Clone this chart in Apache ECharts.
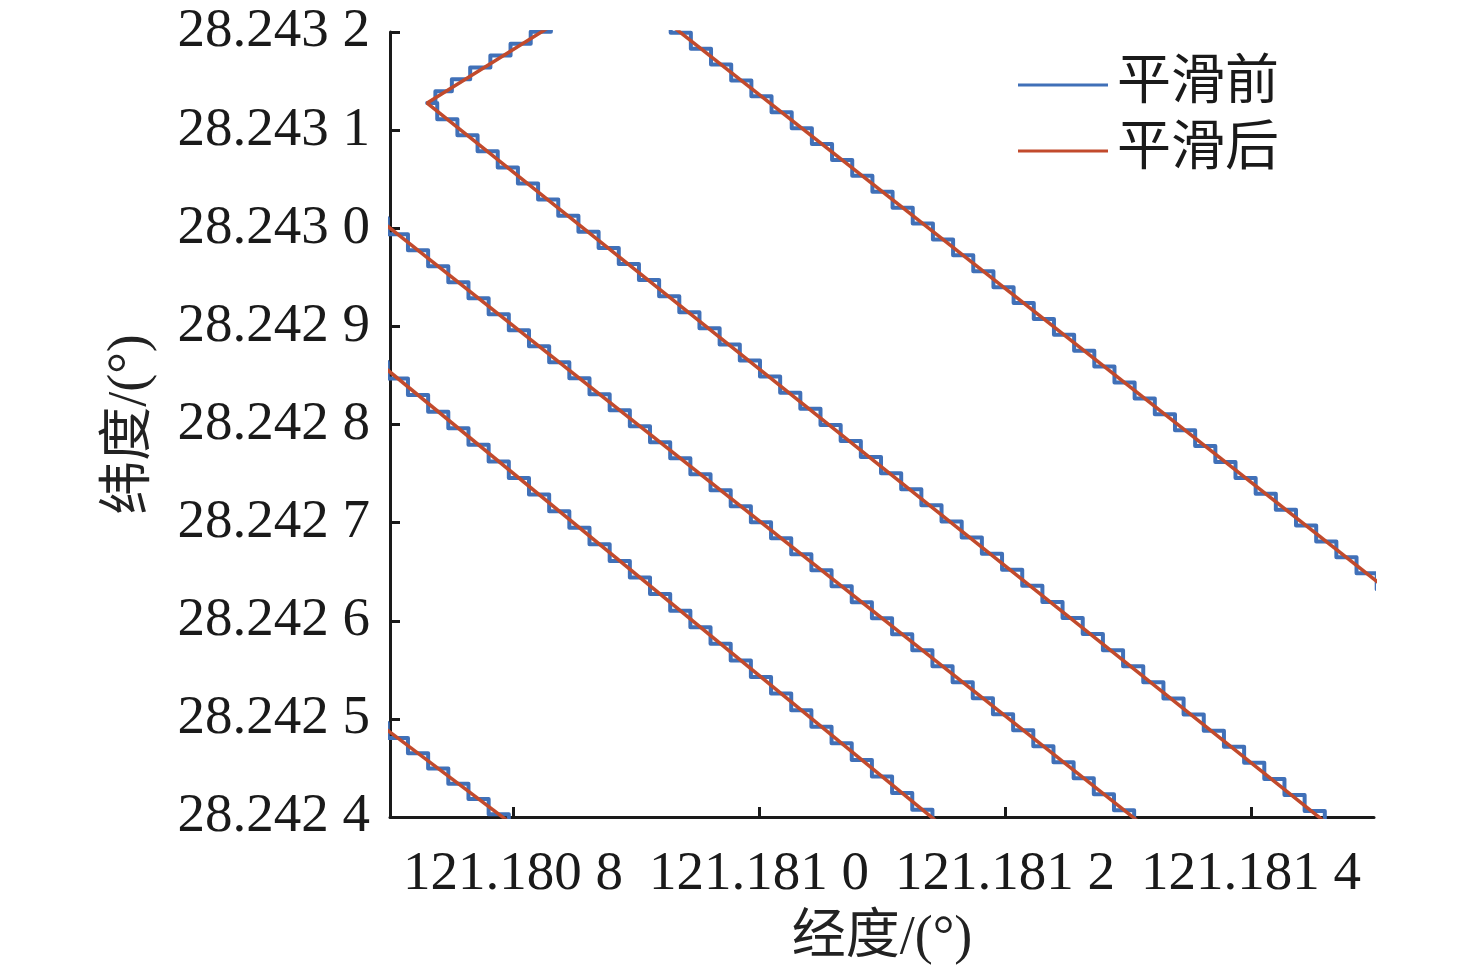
<!DOCTYPE html>
<html>
<head>
<meta charset="utf-8">
<title>平滑前后轨迹</title>
<script src="https://cdn.jsdelivr.net/npm/echarts@6/dist/echarts.min.js"></script>
<style>
    html, body { margin: 0; padding: 0; background: #fff; }
    #chart { width: 1476px; height: 977px; }
</style>
</head>
<body>
<div id="chart"></div>
<script>
// 坐标轴范围 (度)
const lonRange = [121.1807, 121.1815]
const latRange = [28.2424, 28.2432]
const latInterval = 0.0001

const legendNames = ['平滑前', '平滑后']

// 平滑前: 原始定位点 (阶梯状), 每条航线一组 [经度, 纬度]
const before1 = [
    [121.1808390, 28.2432123], [121.1808226, 28.2432002], [121.1808062, 28.2431881], [121.1807898, 28.2431760],
    [121.1807734, 28.2431639], [121.1807570, 28.2431518], [121.1807436, 28.2431397], [121.1807302, 28.2431276],
    [121.1807466, 28.2431112], [121.1807630, 28.2430948], [121.1807794, 28.2430784], [121.1807958, 28.2430620],
    [121.1808122, 28.2430456], [121.1808286, 28.2430292], [121.1808450, 28.2430128], [121.1808614, 28.2429964],
    [121.1808778, 28.2429800], [121.1808942, 28.2429636], [121.1809106, 28.2429472], [121.1809270, 28.2429308],
    [121.1809434, 28.2429144], [121.1809598, 28.2428980], [121.1809762, 28.2428816], [121.1809926, 28.2428652],
    [121.1810090, 28.2428488], [121.1810254, 28.2428324], [121.1810418, 28.2428160], [121.1810582, 28.2427996],
    [121.1810746, 28.2427832], [121.1810910, 28.2427668], [121.1811074, 28.2427504], [121.1811238, 28.2427340],
    [121.1811402, 28.2427176], [121.1811566, 28.2427012], [121.1811730, 28.2426848], [121.1811894, 28.2426684],
    [121.1812058, 28.2426520], [121.1812222, 28.2426356], [121.1812386, 28.2426192], [121.1812550, 28.2426028],
    [121.1812714, 28.2425864], [121.1812878, 28.2425700], [121.1813042, 28.2425536], [121.1813206, 28.2425372],
    [121.1813370, 28.2425208], [121.1813534, 28.2425044], [121.1813698, 28.2424880], [121.1813862, 28.2424716],
    [121.1814026, 28.2424552], [121.1814190, 28.2424388], [121.1814354, 28.2424224], [121.1814518, 28.2424060],
    [121.1814682, 28.2423896]
]
const before2 = [
    [121.1809200, 28.2432154], [121.1809364, 28.2431992], [121.1809528, 28.2431830], [121.1809692, 28.2431668],
    [121.1809856, 28.2431506], [121.1810020, 28.2431344], [121.1810184, 28.2431182], [121.1810348, 28.2431020],
    [121.1810512, 28.2430858], [121.1810676, 28.2430696], [121.1810840, 28.2430534], [121.1811004, 28.2430372],
    [121.1811168, 28.2430210], [121.1811332, 28.2430048], [121.1811496, 28.2429886], [121.1811660, 28.2429724],
    [121.1811824, 28.2429562], [121.1811988, 28.2429400], [121.1812152, 28.2429238], [121.1812316, 28.2429076],
    [121.1812480, 28.2428914], [121.1812644, 28.2428752], [121.1812808, 28.2428590], [121.1812972, 28.2428428],
    [121.1813136, 28.2428266], [121.1813300, 28.2428104], [121.1813464, 28.2427942], [121.1813628, 28.2427780],
    [121.1813792, 28.2427618], [121.1813956, 28.2427456], [121.1814120, 28.2427294], [121.1814284, 28.2427132],
    [121.1814448, 28.2426970], [121.1814612, 28.2426808], [121.1814776, 28.2426646], [121.1814940, 28.2426484],
    [121.1815104, 28.2426322]
]
const before3 = [
    [121.1806900, 28.2430101], [121.1807064, 28.2429938], [121.1807228, 28.2429775], [121.1807392, 28.2429612],
    [121.1807556, 28.2429449], [121.1807720, 28.2429286], [121.1807884, 28.2429123], [121.1808048, 28.2428960],
    [121.1808212, 28.2428797], [121.1808376, 28.2428634], [121.1808540, 28.2428471], [121.1808704, 28.2428308],
    [121.1808868, 28.2428145], [121.1809032, 28.2427982], [121.1809196, 28.2427819], [121.1809360, 28.2427656],
    [121.1809524, 28.2427493], [121.1809688, 28.2427330], [121.1809852, 28.2427167], [121.1810016, 28.2427004],
    [121.1810180, 28.2426841], [121.1810344, 28.2426678], [121.1810508, 28.2426515], [121.1810672, 28.2426352],
    [121.1810836, 28.2426189], [121.1811000, 28.2426026], [121.1811164, 28.2425863], [121.1811328, 28.2425700],
    [121.1811492, 28.2425537], [121.1811656, 28.2425374], [121.1811820, 28.2425211], [121.1811984, 28.2425048],
    [121.1812148, 28.2424885], [121.1812312, 28.2424722], [121.1812476, 28.2424559], [121.1812640, 28.2424396],
    [121.1812804, 28.2424233], [121.1812968, 28.2424070], [121.1813132, 28.2423907]
]
const before4 = [
    [121.1806900, 28.2428638], [121.1807064, 28.2428469], [121.1807228, 28.2428300], [121.1807392, 28.2428131],
    [121.1807556, 28.2427962], [121.1807720, 28.2427793], [121.1807884, 28.2427624], [121.1808048, 28.2427455],
    [121.1808212, 28.2427286], [121.1808376, 28.2427117], [121.1808540, 28.2426948], [121.1808704, 28.2426779],
    [121.1808868, 28.2426610], [121.1809032, 28.2426441], [121.1809196, 28.2426272], [121.1809360, 28.2426103],
    [121.1809524, 28.2425934], [121.1809688, 28.2425765], [121.1809852, 28.2425596], [121.1810016, 28.2425427],
    [121.1810180, 28.2425258], [121.1810344, 28.2425089], [121.1810508, 28.2424920], [121.1810672, 28.2424751],
    [121.1810836, 28.2424582], [121.1811000, 28.2424413], [121.1811164, 28.2424244], [121.1811328, 28.2424075],
    [121.1811492, 28.2423906]
]
const before5 = [
    [121.1806900, 28.2424959], [121.1807064, 28.2424804], [121.1807228, 28.2424649], [121.1807392, 28.2424494],
    [121.1807556, 28.2424339], [121.1807720, 28.2424184], [121.1807884, 28.2424029], [121.1808048, 28.2423874]
]

// 平滑后: 每条航线的平滑轨迹
const after1 = [[121.1808390, 28.2432124], [121.1807302, 28.2431276], [121.1814682, 28.2423869]]
const after2 = [[121.1809200, 28.2432154], [121.1815104, 28.2426322]]
const after3 = [[121.1806900, 28.2430101], [121.1813132, 28.2423907]]
const after4 = [[121.1806900, 28.2428638], [121.1811492, 28.2423906]]
const after5 = [[121.1806900, 28.2424959], [121.1808048, 28.2423874]]

const beforeTracks = [before1, before2, before3, before4, before5]
const afterTracks = [after1, after2, after3, after4, after5]

const serifFont = "'Liberation Serif', 'Times New Roman', 'Noto Sans CJK SC', serif"
const blue = '#4070b8'
const red = '#c24a2c'

// 刻度标签: 28.2432 -> "28.243 2"
function tickFormat(v) {
    const s = v.toFixed(4)
    return s.slice(0, -1) + ' ' + s.slice(-1)
}

const series = []
beforeTracks.forEach(function (track) {
    series.push({
        name: legendNames[0],
        type: 'line',
        step: 'middle',
        data: track,
        symbol: 'none',
        clip: true,
        z: 2,
        itemStyle: { color: blue },
        lineStyle: { color: blue, width: 4, join: 'round', cap: 'round' }
    })
})
afterTracks.forEach(function (track) {
    series.push({
        name: legendNames[1],
        type: 'line',
        data: track,
        symbol: 'none',
        clip: true,
        z: 3,
        itemStyle: { color: red },
        lineStyle: { color: red, width: 3.5 }
    })
})

const axisCommon = {
    type: 'value',
    nameLocation: 'middle',
    nameTextStyle: { fontFamily: serifFont, fontSize: 54, color: '#222' },
    axisLine: { show: true, lineStyle: { color: '#1a1a1a', width: 3 } },
    axisTick: { show: true, inside: true, length: 10, lineStyle: { color: '#1a1a1a', width: 3 } },
    splitLine: { show: false },
    axisLabel: {
        fontFamily: serifFont,
        fontSize: 55,
        color: '#1a1a1a',
        showMinLabel: false,
        showMaxLabel: false,
        formatter: tickFormat
    }
}

const option = {
    animation: false,
    backgroundColor: '#fff',
    grid: {
        left: 390,
        top: 32,
        width: 984,
        height: 785,
        outerBoundsMode: 'none',
        containLabel: false
    },
    legend: {
        data: legendNames,
        orient: 'vertical',
        left: 1013,
        top: 53,
        icon: 'rect',
        itemWidth: 90,
        itemHeight: 3,
        itemGap: 12,
        itemStyle: { borderWidth: 0 },
        textStyle: { fontFamily: serifFont, fontSize: 54, color: '#1a1a1a', padding: [0, 0, 0, 4] }
    },
    xAxis: Object.assign({}, axisCommon, {
        min: lonRange[0],
        max: lonRange[1],
        name: '经度/(°)',
        nameGap: 95,
        axisLabel: Object.assign({}, axisCommon.axisLabel, { margin: 30 })
    }),
    yAxis: Object.assign({}, axisCommon, {
        min: latRange[0],
        max: latRange[1],
        interval: latInterval,
        name: '纬度/(°)',
        nameGap: 232,
        axisLabel: Object.assign({}, axisCommon.axisLabel, { margin: 20, showMinLabel: true, showMaxLabel: true })
    }),
    series: series
}

const chart = echarts.init(document.getElementById('chart'))
chart.setOption(option)
window.addEventListener('resize', function () {
    chart.resize()
})
</script>
</body>
</html>
